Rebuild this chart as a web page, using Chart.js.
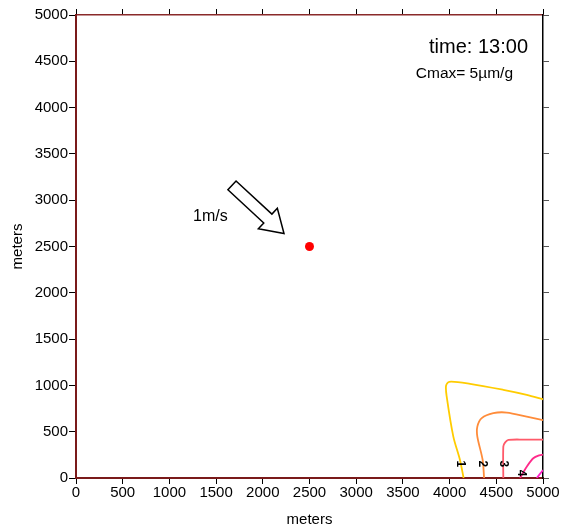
<!DOCTYPE html>
<html lang="en">
<head>
    <meta charset="UTF-8">
    <title>Concentration contours</title>
    <script src="https://cdn.jsdelivr.net/npm/chart.js"></script>
    <style>
        body { margin: 0; padding: 0; background: #fff; }
        #wrap { width: 562px; height: 527px; }
    </style>
</head>
<body>
    <div id="wrap"><canvas id="contourChart" width="562" height="527"></canvas></div>

    <script>
        // contour lines, 1..5 µm/g
        const c1x = [4150, 4111, 4040, 3969, 3962, 3997, 4219, 4575, 4826, 5000];
        const c1y = [0, 195, 447, 879, 996, 1039, 1017, 952, 898, 850];
        const c2x = [4369, 4354, 4297, 4297, 4344, 4468, 4612, 4826, 5000];
        const c2y = [0, 195, 447, 555, 646, 700, 707, 663, 625];
        const c3x = [4575, 4575, 4593, 4629, 4800, 5000];
        const c3y = [0, 339, 382, 411, 415, 415];
        const c4x = [4754, 4826, 4896, 4960, 5000];
        const c4y = [0, 122, 213, 245, 252];
        const c5x = [4933, 4986, 5000];
        const c5y = [0, 68, 85];
        const lineColors = ['#ffcc00', '#ff8c3a', '#ff5a6a', '#ff2a8a', '#ff1fc8'];

        const levelLabels = ['1', '2', '3', '4'];
        const levelLabelX = [4111, 4347, 4572, 4765];
        const levelLabelY = [152, 152, 152, 54];

        const source = { x: 2500, y: 2500 };
        const wind = { x0: 1670, y0: 3160, x1: 2227, y1: 2641, label: '1m/s' };

        const toPts = (xs, ys) => xs.map((x, i) => ({ x: x, y: ys[i] }));
        const contours = [[c1x, c1y], [c2x, c2y], [c3x, c3y], [c4x, c4y], [c5x, c5y]];

        const datasets = contours.map((c, i) => ({
            data: toPts(c[0], c[1]),
            showLine: true,
            borderColor: lineColors[i],
            borderWidth: 1.8,
            pointRadius: 0,
            tension: 0.3
        }));
        datasets.push({
            data: [source],
            pointRadius: 4.5,
            pointBackgroundColor: '#ff0000',
            pointBorderWidth: 0
        });

        const FONT = '"Liberation Sans", Arial, sans-serif';

        // wind arrow, level labels, y title and header text
        const overlay = {
            id: 'overlay',
            afterDatasetsDraw(chart) {
                const ctx = chart.ctx;
                const xs = chart.scales.x, ys = chart.scales.y;
                ctx.save();

                // block arrow
                const ax = xs.getPixelForValue(wind.x0), ay = ys.getPixelForValue(wind.y0);
                const bx = xs.getPixelForValue(wind.x1), by = ys.getPixelForValue(wind.y1);
                const len = Math.hypot(bx - ax, by - ay);
                ctx.translate(ax, ay);
                ctx.rotate(Math.atan2(by - ay, bx - ax));
                const hw = 6, hh = 14, hl = 22;
                ctx.beginPath();
                ctx.moveTo(0, -hw);
                ctx.lineTo(len - hl, -hw);
                ctx.lineTo(len - hl, -hh);
                ctx.lineTo(len, 0);
                ctx.lineTo(len - hl, hh);
                ctx.lineTo(len - hl, hw);
                ctx.lineTo(0, hw);
                ctx.closePath();
                ctx.fillStyle = '#fff';
                ctx.fill();
                ctx.strokeStyle = '#000';
                ctx.lineWidth = 1.5;
                ctx.stroke();
                ctx.setTransform(1, 0, 0, 1, 0, 0);

                ctx.fillStyle = '#000';
                ctx.font = '16px ' + FONT;
                ctx.textAlign = 'left';
                ctx.textBaseline = 'middle';
                ctx.fillText(wind.label, xs.getPixelForValue(1253), ys.getPixelForValue(2820));

                ctx.textAlign = 'right';
                ctx.font = '20px ' + FONT;
                ctx.fillText('time: 13:00', 528, 47);
                ctx.font = '15.5px ' + FONT;
                ctx.fillText('Cmax= 5µm/g', 513, 74);

                // y axis title
                ctx.save();
                ctx.translate(18, (ys.top + ys.bottom) / 2);
                ctx.rotate(-Math.PI / 2);
                ctx.textAlign = 'center';
                ctx.font = '15px ' + FONT;
                ctx.fillText('meters', 0, 0);
                ctx.restore();

                // contour level numbers
                ctx.font = 'bold 12px ' + FONT;
                ctx.textAlign = 'center';
                levelLabels.forEach((t, i) => {
                    ctx.save();
                    ctx.translate(xs.getPixelForValue(levelLabelX[i]), ys.getPixelForValue(levelLabelY[i]));
                    ctx.rotate(Math.PI / 2);
                    ctx.fillText(t, 0, 0);
                    ctx.restore();
                });
                ctx.restore();
            }
        };

        const tickFont = { family: FONT, size: 15 };
        const plain = (v) => String(v);
        const fixSize = (w, h) => (s) => { if (w !== null) s.width = w; if (h !== null) s.height = h; };

        new Chart(document.getElementById('contourChart'), {
            type: 'scatter',
            data: { datasets: datasets },
            plugins: [overlay],
            options: {
                responsive: false,
                animation: false,
                layout: { padding: 0 },
                plugins: { legend: { display: false }, tooltip: { enabled: false } },
                scales: {
                    x: {
                        type: 'linear', min: 0, max: 5000, position: 'bottom',
                        ticks: { stepSize: 500, color: '#000', font: tickFont, padding: 0, maxRotation: 0, callback: plain },
                        grid: { drawOnChartArea: false, tickLength: 6, tickColor: '#000' },
                        border: { color: '#7a1a1a', width: 2 },
                        title: { display: true, text: 'meters', color: '#000', font: { family: FONT, size: 15 }, padding: { top: 5, bottom: -2 } },
                        afterFit: fixSize(null, 49)
                    },
                    x2: {
                        type: 'linear', min: 0, max: 5000, position: 'top',
                        ticks: { stepSize: 500, display: false },
                        grid: { drawOnChartArea: false, tickLength: 6, tickColor: '#000' },
                        border: { color: '#8a2a2a', width: 1.5 },
                        afterFit: fixSize(null, 15)
                    },
                    y: {
                        type: 'linear', min: 0, max: 5000, position: 'left',
                        ticks: { stepSize: 500, color: '#000', font: tickFont, padding: 1, callback: plain },
                        grid: { drawOnChartArea: false, tickLength: 7, tickColor: '#000' },
                        border: { color: '#7a1a1a', width: 2 },
                        afterFit: fixSize(76, null)
                    },
                    y2: {
                        type: 'linear', min: 0, max: 5000, position: 'right',
                        ticks: { stepSize: 500, display: false },
                        grid: { drawOnChartArea: false, tickLength: 6, tickColor: '#555' },
                        border: { color: '#000', width: 1.5 },
                        afterFit: fixSize(19, null)
                    }
                }
            }
        });
    </script>
</body>
</html>
